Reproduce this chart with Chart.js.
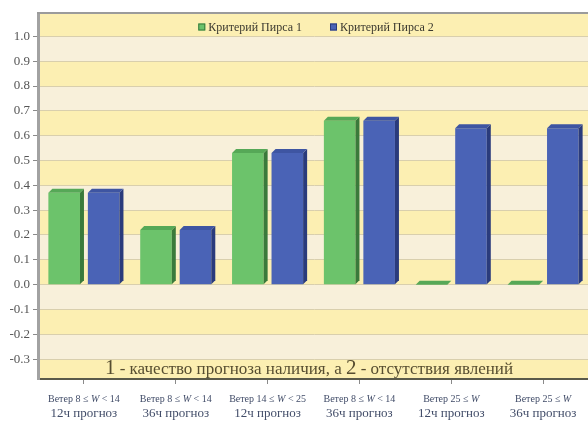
<!DOCTYPE html>
<html lang="ru">
<head>
<meta charset="utf-8">
<script src="https://cdn.jsdelivr.net/npm/chart.js@4/dist/chart.umd.min.js"></script>
<style>
  html, body { margin: 0; padding: 0; background: #ffffff; overflow: hidden; }
  #wrap { position: relative; width: 600px; height: 421px; }
</style>
</head>
<body>
<div id="wrap"><canvas id="c" width="600" height="421"></canvas></div>
<script>
// Wind-speed groups and forecast lead time for each category
const windLabels = ['Ветер 8 ≤ W < 14', 'Ветер 8 ≤ W < 14', 'Ветер 14 ≤ W < 25', 'Ветер 8 ≤ W < 14', 'Ветер 25 ≤ W', 'Ветер 25 ≤ W'];
const leadLabels = ['12ч прогноз', '36ч прогноз', '12ч прогноз', '36ч прогноз', '12ч прогноз', '36ч прогноз'];

// Peirce skill score values
const peirce1 = [0.37, 0.22, 0.53, 0.66, 0.0, 0.0];
const peirce2 = [0.37, 0.22, 0.53, 0.66, 0.63, 0.63];

const seriesNames = ['Критерий Пирса 1', 'Критерий Пирса 2'];
const yTicks = [-0.3, -0.2, -0.1, 0.0, 0.1, 0.2, 0.3, 0.4, 0.5, 0.6, 0.7, 0.8, 0.9, 1.0];
const captionParts = [['1', true], [' - качество прогноза наличия, а ', false], ['2', true], [' - отсутствия явлений', false]];

const SERIF = '"Liberation Serif", "DejaVu Serif", serif';
const faces = [
  { front: '#6cc36b', top: '#56a857', side: '#3a7a3b' },
  { front: '#4a63b6', top: '#3e55a2', side: '#2a3b7c' }
];

// Alternating cream / yellow bands behind the grid
const bandsPlugin = {
  id: 'bands',
  beforeDraw(chart) {
    const { ctx, chartArea: a, scales: { y } } = chart;
    ctx.save();
    ctx.fillStyle = '#fcefb2';
    ctx.fillRect(a.left, a.top, a.right - a.left, a.bottom - a.top);
    ctx.fillStyle = '#f8f0da';
    for (let i = 0; i < yTicks.length - 1; i++) {
      const k = Math.round((1.0 - yTicks[i + 1]) * 10);
      if (k % 2 === 0) {
        const yTop = y.getPixelForValue(yTicks[i + 1]);
        const yBot = y.getPixelForValue(yTicks[i]);
        ctx.fillRect(a.left, yTop, a.right - a.left, yBot - yTop);
      }
    }
    ctx.restore();
  }
};

// Extruded top and side faces for each bar
const depthPlugin = {
  id: 'depth',
  afterDatasetsDraw(chart) {
    const ctx = chart.ctx;
    const d = 4;
    ctx.save();
    chart.data.datasets.forEach((ds, di) => {
      const meta = chart.getDatasetMeta(di);
      const c = faces[di];
      meta.data.forEach(bar => {
        const p = bar.getProps(['x', 'y', 'base', 'width'], true);
        const l = p.x - p.width / 2, r = p.x + p.width / 2;
        const top = Math.min(p.y, p.base), bot = Math.max(p.y, p.base);
        ctx.fillStyle = c.side;
        ctx.beginPath();
        ctx.moveTo(r, top);
        ctx.lineTo(r + d, top - d);
        ctx.lineTo(r + d, bot - d);
        ctx.lineTo(r, bot);
        ctx.closePath();
        ctx.fill();
        ctx.fillStyle = c.top;
        ctx.beginPath();
        ctx.moveTo(l, top);
        ctx.lineTo(l + d, top - d);
        ctx.lineTo(r + d, top - d);
        ctx.lineTo(r, top);
        ctx.closePath();
        ctx.fill();
      });
    });
    ctx.restore();
  }
};

// Draws a label with the letter W set in italics
function drawWindLabel(ctx, text, cx, y, size) {
  const parts = text.split('W');
  const fonts = [];
  const pieces = [];
  parts.forEach((p, i) => {
    pieces.push(p); fonts.push(size + 'px ' + SERIF);
    if (i < parts.length - 1) { pieces.push('W'); fonts.push('italic ' + size + 'px ' + SERIF); }
  });
  let w = 0;
  pieces.forEach((p, i) => { ctx.font = fonts[i]; w += ctx.measureText(p).width; });
  let px = cx - w / 2;
  ctx.textAlign = 'left';
  pieces.forEach((p, i) => { ctx.font = fonts[i]; ctx.fillText(p, px, y); px += ctx.measureText(p).width; });
}

// Frame, legend, two-line category labels and the caption line
const decorPlugin = {
  id: 'decor',
  afterDraw(chart) {
    const { ctx, chartArea: a, scales: { x } } = chart;
    ctx.save();
    // top frame line
    ctx.strokeStyle = '#9b9b9b';
    ctx.lineWidth = 2;
    ctx.beginPath();
    ctx.moveTo(a.left - 1, a.top - 1);
    ctx.lineTo(a.right + 12, a.top - 1);
    ctx.stroke();

    // legend in the top band
    ctx.font = '12px ' + SERIF;
    ctx.textBaseline = 'middle';
    ctx.textAlign = 'left';
    const box = 7, gapBox = 3, gapItem = 28;
    const widths = seriesNames.map(t => box + gapBox + ctx.measureText(t).width);
    const total = widths.reduce((s, w) => s + w, 0) + gapItem;
    let lx = 316 - total / 2;
    const ly = a.top + 13;
    seriesNames.forEach((t, i) => {
      ctx.fillStyle = faces[i].front;
      ctx.fillRect(lx, ly - box / 2, box, box);
      ctx.strokeStyle = faces[i].side;
      ctx.lineWidth = 1;
      ctx.strokeRect(lx + 0.5, ly - box / 2 + 0.5, box - 1, box - 1);
      ctx.fillStyle = '#3c3a30';
      ctx.fillText(t, lx + box + gapBox, ly + 0.5);
      lx += widths[i] + gapItem;
    });

    // category labels
    ctx.fillStyle = '#414c68';
    ctx.textBaseline = 'alphabetic';
    windLabels.forEach((t, i) => {
      const px = x.getPixelForTick(i);
      drawWindLabel(ctx, t, px, a.bottom + 23, 10);
      ctx.font = '13px ' + SERIF;
      ctx.textAlign = 'center';
      ctx.fillText(leadLabels[i], px, a.bottom + 38);
    });

    // caption inside the plot
    const big = '21px ' + SERIF, small = '17px ' + SERIF;
    let cw = 0;
    captionParts.forEach(([t, b]) => { ctx.font = b ? big : small; cw += ctx.measureText(t).width; });
    let cx = 309 - cw / 2;
    ctx.textAlign = 'left';
    ctx.fillStyle = '#564d30';
    captionParts.forEach(([t, b]) => {
      ctx.font = b ? big : small;
      ctx.fillText(t, cx, a.bottom - 5);
      cx += ctx.measureText(t).width;
    });
    ctx.restore();
  }
};

new Chart(document.getElementById('c'), {
  type: 'bar',
  data: {
    labels: windLabels.map((w, i) => w + ' ' + leadLabels[i]),
    datasets: [
      { label: seriesNames[0], data: peirce1, backgroundColor: faces[0].front, borderWidth: 0 },
      { label: seriesNames[1], data: peirce2, backgroundColor: faces[1].front, borderWidth: 0 }
    ]
  },
  options: {
    responsive: false,
    animation: false,
    devicePixelRatio: 1,
    layout: { padding: { top: 14, right: 11, left: 0, bottom: 0 } },
    datasets: { bar: { categoryPercentage: 0.86, barPercentage: 0.8 } },
    plugins: {
      tooltip: { enabled: false },
      legend: { display: false }
    },
    scales: {
      x: {
        grid: { drawOnChartArea: false, drawTicks: true, tickLength: 5, color: '#8a8a8a', offset: false },
        border: { display: true, color: '#5a5a4a', width: 2 },
        ticks: { callback: () => '', padding: 0 },
        afterFit(s) { s.height = 42; }
      },
      y: {
        min: -0.38,
        max: 1.09,
        ticks: {
          stepSize: 0.1,
          includeBounds: false,
          color: '#555555',
          font: { family: SERIF, size: 13 },
          padding: 3,
          callback: v => (Math.round(v * 10) / 10).toFixed(1)
        },
        grid: { color: '#d9cfad', lineWidth: 1, tickLength: 5, tickColor: '#8a8a8a' },
        border: { display: true, color: '#a2a2a2', width: 3 },
        afterFit(s) { s.width = 38; }
      }
    }
  },
  plugins: [bandsPlugin, depthPlugin, decorPlugin]
});
</script>
</body>
</html>
